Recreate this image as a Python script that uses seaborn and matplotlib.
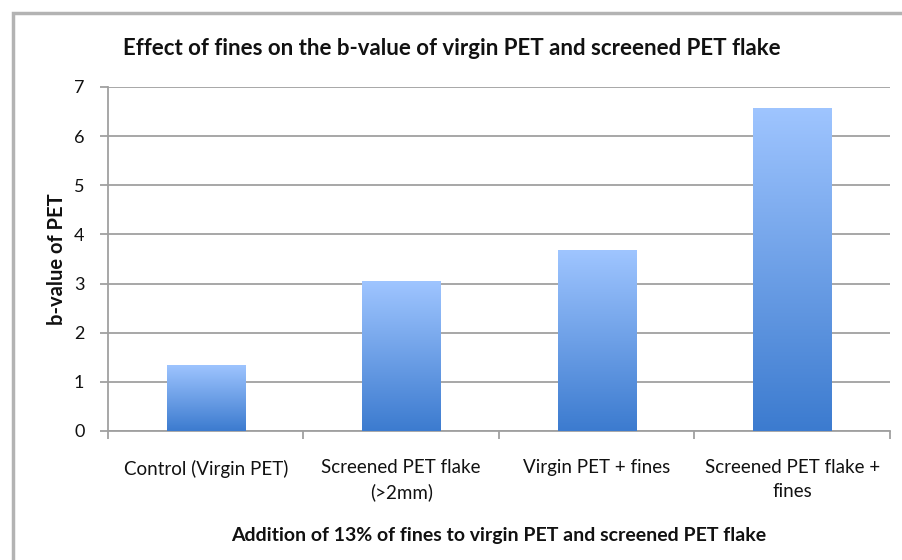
import numpy as np
import seaborn as sns
import matplotlib
matplotlib.use("Agg")
import matplotlib.pyplot as plt
from matplotlib.colors import LinearSegmentedColormap
from matplotlib.patches import Rectangle

categories = ["Control (Virgin PET)", "Screened PET flake\n(>2mm)",
              "Virgin PET + fines", "Screened PET flake +\nfines"]
b_values = [1.35, 3.05, 3.68, 6.58]

title = "Effect of fines on the b-value of virgin PET and screened PET flake"
x_label = "Addition of 13% of fines to virgin PET and screened PET flake"
y_label = "b-value of PET"

sns.set_style("white")
plt.rcParams['font.family'] = ['Lato', 'DejaVu Sans']
plt.rcParams['text.color'] = "#111111"

fig = plt.figure(figsize=(9.03, 5.6), dpi=100)
ax = fig.add_axes([0.1196, 0.2304, 0.8660, 0.6143])

sns.barplot(x=categories, y=b_values, width=0.4, color="#6a9ee8", ax=ax, zorder=3)

# gradient fill: light blue at top, deeper blue at the base
cmap = LinearSegmentedColormap.from_list("bar", ["#3c7bcf", "#9fc5ff"])
grad = np.linspace(0, 1, 256).reshape(-1, 1)
for p in ax.patches:
    x0, y0 = p.get_x(), p.get_y()
    w, h = p.get_width(), p.get_height()
    im = ax.imshow(grad, cmap=cmap, aspect="auto", origin="lower",
                   extent=[x0, x0 + w, y0, y0 + h], zorder=3)
    im.set_clip_path(p)
    p.set_facecolor("none")
    p.set_edgecolor("none")

ax.set_xlim(-0.5, len(categories) - 0.5)
ax.set_ylim(0, 7)
ax.set_yticks(range(0, 8))
ax.yaxis.grid(True, color="#a0a0a0", linewidth=1.3, zorder=0)
ax.set_axisbelow(True)

for s in ["top", "right"]:
    ax.spines[s].set_visible(False)
for s in ["left", "bottom"]:
    ax.spines[s].set_color("#a0a0a0")
    ax.spines[s].set_linewidth(1.3)

ax.tick_params(axis="y", which="major", left=True, length=6, width=1.3,
               color="#a0a0a0", labelsize=13, pad=11, labelcolor="#111111")
ax.tick_params(axis="x", which="major", bottom=False, labelsize=13.5, pad=17,
               labelcolor="#111111")
ax.set_xticks(np.arange(-0.5, len(categories)), minor=True)
ax.tick_params(axis="x", which="minor", bottom=True, length=6, width=1.3, color="#a0a0a0")
for lbl in ax.get_xticklabels():
    lbl.set_linespacing(1.45)

ax.set_xlabel(x_label, fontsize=14, fontweight="bold", labelpad=19, color="#111111")
ax.set_ylabel(y_label, fontsize=14.5, fontweight="bold", color="#111111")
ax.yaxis.set_label_coords(-0.053, 0.5)

fig.text(0.5, 0.913, title, ha="center", va="center", fontsize=16, fontweight="bold")

# outer chart border, only the left and top edges are inside the picture
fig.patches.append(Rectangle((0.0145, -0.1), 1.2, 0.977 + 0.1, transform=fig.transFigure,
                             fill=False, edgecolor="#b3b3b3", linewidth=2.5))

fig.savefig("out.png", dpi=100)
